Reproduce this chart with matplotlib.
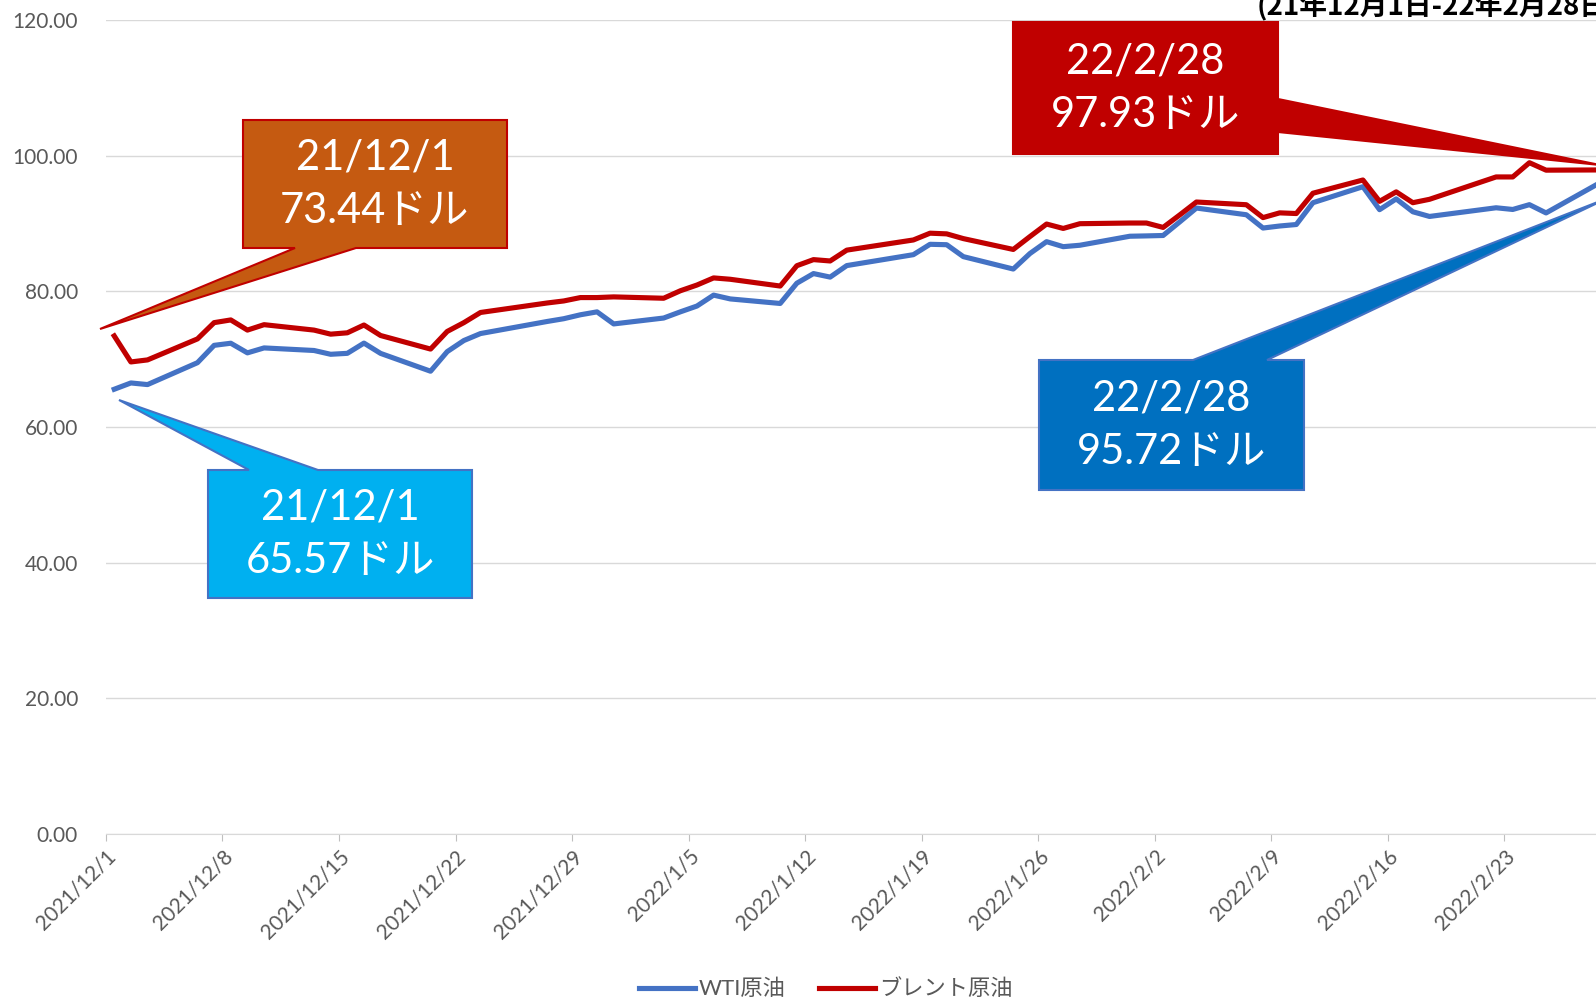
import datetime as dt
import matplotlib
matplotlib.use("Agg")
import matplotlib.pyplot as plt
import matplotlib.dates as mdates
from matplotlib.patches import Polygon
from matplotlib.ticker import FuncFormatter, MultipleLocator

plt.rcParams['font.family'] = ['Lato', 'Noto Sans CJK JP', 'DejaVu Sans']

# trading days (2021/12/1 - 2022/2/28)
dates = ["2021-12-01", "2021-12-02", "2021-12-03", "2021-12-06", "2021-12-07", "2021-12-08",
         "2021-12-09", "2021-12-10", "2021-12-13", "2021-12-14", "2021-12-15", "2021-12-16",
         "2021-12-17", "2021-12-20", "2021-12-21", "2021-12-22", "2021-12-23", "2021-12-27",
         "2021-12-28", "2021-12-29", "2021-12-30", "2021-12-31", "2022-01-03", "2022-01-04",
         "2022-01-05", "2022-01-06", "2022-01-07", "2022-01-10", "2022-01-11", "2022-01-12",
         "2022-01-13", "2022-01-14", "2022-01-18", "2022-01-19", "2022-01-20", "2022-01-21",
         "2022-01-24", "2022-01-25", "2022-01-26", "2022-01-27", "2022-01-28", "2022-01-31",
         "2022-02-01", "2022-02-02", "2022-02-03", "2022-02-04", "2022-02-07", "2022-02-08",
         "2022-02-09", "2022-02-10", "2022-02-11", "2022-02-14", "2022-02-15", "2022-02-16",
         "2022-02-17", "2022-02-18", "2022-02-22", "2022-02-23", "2022-02-24", "2022-02-25",
         "2022-02-28"]

wti = [65.57, 66.50, 66.26, 69.49, 72.05, 72.36, 70.94, 71.67, 71.29, 70.73, 70.87, 72.38,
       70.86, 68.23, 71.12, 72.76, 73.79, 75.57, 75.98, 76.56, 76.99, 75.21, 76.08, 76.99,
       77.85, 79.46, 78.90, 78.23, 81.22, 82.64, 82.12, 83.82, 85.43, 86.96, 86.90, 85.14,
       83.31, 85.60, 87.35, 86.61, 86.82, 88.15, 88.20, 88.26, 90.27, 92.31, 91.32, 89.36,
       89.66, 89.88, 93.10, 95.46, 92.07, 93.66, 91.76, 91.07, 92.35, 92.10, 92.81, 91.59,
       95.72]

brent = [73.44, 69.60, 69.90, 73.00, 75.40, 75.80, 74.30, 75.10, 74.30, 73.70, 73.90, 75.05,
         73.50, 71.50, 74.10, 75.40, 76.90, 78.30, 78.60, 79.10, 79.10, 79.20, 79.00, 80.10,
         80.95, 82.00, 81.80, 80.80, 83.80, 84.70, 84.50, 86.10, 87.60, 88.60, 88.50, 87.80,
         86.20, 88.10, 89.95, 89.30, 90.00, 90.10, 90.10, 89.45, 91.30, 93.20, 92.80, 90.90,
         91.60, 91.50, 94.50, 96.45, 93.30, 94.70, 93.10, 93.60, 96.90, 96.90, 99.00, 97.90,
         97.93]

series_labels = ["WTI原油", "ブレント原油"]
title = "(21年12月1日-22年2月28日)"

W, H = 1596, 1002
fig = plt.figure(figsize=(W / 100, H / 100), dpi=100)
ax = fig.add_axes([105.9 / W, 1 - 833.6 / H, 1 - 105.9 / W, (833.6 - 20.4) / H])

# points sit in the middle of each day, like Excel's date axis
x = [dt.datetime.strptime(d, "%Y-%m-%d") + dt.timedelta(hours=12) for d in dates]
ax.plot(x, wti, color="#4472C4", lw=3.7, label=series_labels[0])
ax.plot(x, brent, color="#C00000", lw=3.7, label=series_labels[1])

start = dt.datetime(2021, 12, 1)
ax.set_xlim(start, start + dt.timedelta(days=89.5))
ax.set_ylim(0, 120)
ax.yaxis.set_major_locator(MultipleLocator(20))
ax.yaxis.set_major_formatter(FuncFormatter(lambda v, p: f"{v:.2f}"))
ax.grid(axis="y", color="#D9D9D9", lw=1.0)
ax.set_axisbelow(True)

ax.set_xticks([start + dt.timedelta(days=7 * i) for i in range(13)])
ax.xaxis.set_major_formatter(FuncFormatter(
    lambda v, p: (lambda d: f"{d.year}/{d.month}/{d.day}")(mdates.num2date(v))))
for lbl in ax.get_xticklabels():
    lbl.set_rotation(45)
    lbl.set_ha("right")
    lbl.set_rotation_mode("anchor")

ax.tick_params(axis="x", colors="#595959", labelsize=15, length=5, color="#BFBFBF", pad=4)
ax.tick_params(axis="y", colors="#595959", labelsize=15, length=0, pad=20)
for s in ["top", "right", "left"]:
    ax.spines[s].set_visible(False)
ax.spines["bottom"].set_color("#D9D9D9")

fig.legend(loc="center", bbox_to_anchor=(826 / W, 1 - 989 / H), ncol=2, frameon=False,
           fontsize=16, handlelength=2.5, handletextpad=0.2, columnspacing=1.5,
           labelcolor="#595959")

fig.text(1257 / W, 1 - 15 / H, title, fontsize=20, fontweight="bold",
         family=["Noto Sans CJK JP", "DejaVu Sans"], va="baseline", ha="left")


def callout(box, side, base, tip, face, edge, lines):
    x0, y0, x1, y1 = box
    if side == "bottom":
        pts = [(x0, y0), (x1, y0), (x1, y1), (base[1], y1), tip, (base[0], y1), (x0, y1)]
    elif side == "top":
        pts = [(x0, y0), (base[0], y0), tip, (base[1], y0), (x1, y0), (x1, y1), (x0, y1)]
    else:
        pts = [(x0, y0), (x1, y0), (x1, base[0]), tip, (x1, base[1]), (x1, y1), (x0, y1)]
    pts = [(px / W, 1 - py / H) for px, py in pts]
    fig.add_artist(Polygon(pts, closed=True, facecolor=face, edgecolor=edge, lw=1.5,
                           transform=fig.transFigure, clip_on=False, zorder=5))
    fig.text((x0 + x1) / 2 / W, 1 - (y0 + y1) / 2 / H, "\n".join(lines), color="white",
             fontsize=30, ha="center", va="center", linespacing=1.5, zorder=6)


callout((243, 120, 507, 248), "bottom", (295, 356), (100, 329), "#C55A11", "#C00000",
        ["21/12/1", "73.44ドル"])
callout((208, 470, 472, 598), "top", (249, 318), (119, 400), "#00B0F0", "#4472C4",
        ["21/12/1", "65.57ドル"])
callout((1013, 22, 1278, 154), "right", (99, 132), (1600, 165), "#C00000", "#C00000",
        ["22/2/28", "97.93ドル"])
callout((1039, 360, 1304, 490), "top", (1193, 1267), (1608, 198), "#0070C0", "#4472C4",
        ["22/2/28", "95.72ドル"])

plt.savefig("out.png", dpi=100)
